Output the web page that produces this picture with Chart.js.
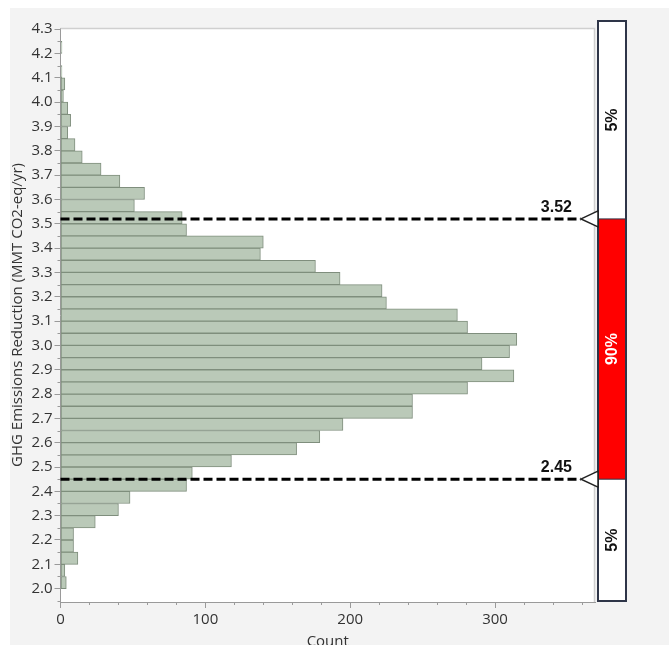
<!DOCTYPE html>
<html>
<head>
<meta charset="utf-8">
<script src="https://cdn.jsdelivr.net/npm/chart.js@4.4.1/dist/chart.umd.min.js"></script>
<style>
  html, body { margin: 0; padding: 0; background: #fff; }
  #wrap { width: 669px; height: 645px; }
</style>
</head>
<body>
<div id="wrap"><canvas id="histChart" width="669" height="645"></canvas></div>
<script>
// histogram bins (lower edge, width 0.05) and counts
const binStart = [2.00, 2.05, 2.10, 2.15, 2.20, 2.25, 2.30, 2.35, 2.40, 2.45,
                  2.50, 2.55, 2.60, 2.65, 2.70, 2.75, 2.80, 2.85, 2.90, 2.95,
                  3.00, 3.05, 3.10, 3.15, 3.20, 3.25, 3.30, 3.35, 3.40, 3.45,
                  3.50, 3.55, 3.60, 3.65, 3.70, 3.75, 3.80, 3.85, 3.90, 3.95,
                  4.00, 4.05, 4.10, 4.15, 4.20];
const counts = [4, 3, 12, 9, 9, 24, 40, 48, 87, 91,
                118, 163, 179, 195, 243, 243, 281, 313, 291, 310,
                315, 281, 274, 225, 222, 193, 176, 138, 140, 87,
                84, 51, 58, 41, 28, 15, 10, 5, 7, 5,
                2, 3, 1, 0, 1];
const binWidth = 0.05;

const yTickValues = [2.0, 2.1, 2.2, 2.3, 2.4, 2.5, 2.6, 2.7, 2.8, 2.9, 3.0, 3.1,
                     3.2, 3.3, 3.4, 3.5, 3.6, 3.7, 3.8, 3.9, 4.0, 4.1, 4.2, 4.3];
const xTickValues = [0, 100, 200, 300];

const lowerCut = 2.45;
const upperCut = 3.52;
const shareLabels = ['5%', '90%', '5%'];   // above upper, between, below lower

const uiFont = "'Segoe UI', 'Open Sans', sans-serif";
const boldFont = "'Liberation Sans', Arial, sans-serif";

const decorPlugin = {
  id: 'decor',
  beforeDraw(chart) {
    const ctx = chart.ctx;
    const a = chart.chartArea;
    ctx.save();
    ctx.fillStyle = '#ffffff';
    ctx.fillRect(0, 0, chart.width, chart.height);
    ctx.fillStyle = '#f3f3f3';
    ctx.fillRect(10, 8, chart.width - 10, chart.height - 8);
    ctx.fillStyle = '#ffffff';
    ctx.fillRect(a.left, a.top, a.right - a.left, a.bottom - a.top);
    ctx.restore();
  },
  afterDraw(chart) {
    const ctx = chart.ctx;
    const a = chart.chartArea;
    const xs = chart.scales.x;
    const ys = chart.scales.y;
    ctx.save();

    // light frame on top / right of plot
    ctx.strokeStyle = '#cfcfcf';
    ctx.lineWidth = 1.5;
    ctx.beginPath();
    ctx.moveTo(a.left, a.top + 0.5);
    ctx.lineTo(a.right - 0.5, a.top + 0.5);
    ctx.lineTo(a.right - 0.5, a.bottom);
    ctx.stroke();

    // minor ticks
    ctx.strokeStyle = '#9a9a9a';
    ctx.lineWidth = 1;
    ctx.beginPath();
    for (let k = Math.ceil(ys.min / 0.05); k * 0.05 <= ys.max; k++) {
      if (k % 2 === 0) continue;
      const py = Math.round(ys.getPixelForValue(k * 0.05)) + 0.5;
      ctx.moveTo(a.left - 3, py);
      ctx.lineTo(a.left, py);
    }
    for (let v = 20; v <= xs.max; v += 20) {
      if (v % 100 === 0) continue;
      const px = Math.round(xs.getPixelForValue(v)) + 0.5;
      ctx.moveTo(px, a.bottom);
      ctx.lineTo(px, a.bottom + 3);
    }
    ctx.stroke();

    // side box
    const boxL = 598, boxR = 626;
    const boxT = a.top - 7, boxB = a.bottom - 1;
    const yUp = ys.getPixelForValue(upperCut);
    const yLo = ys.getPixelForValue(lowerCut);
    const tipX = boxL - 17;

    // dashed cut lines
    ctx.strokeStyle = '#000';
    ctx.lineWidth = 3;
    ctx.setLineDash([9, 4]);
    [yUp, yLo].forEach(py => {
      ctx.beginPath();
      ctx.moveTo(a.left, py);
      ctx.lineTo(tipX, py);
      ctx.stroke();
    });
    ctx.setLineDash([]);

    // cut labels
    ctx.fillStyle = '#111';
    ctx.font = 'bold 16px ' + boldFont;
    ctx.textAlign = 'right';
    ctx.textBaseline = 'alphabetic';
    ctx.fillText(upperCut.toFixed(2), 572, yUp - 7);
    ctx.fillText(lowerCut.toFixed(2), 572, yLo - 7);

    // box
    ctx.fillStyle = '#ffffff';
    ctx.fillRect(boxL, boxT, boxR - boxL, boxB - boxT);
    ctx.fillStyle = '#ff0000';
    ctx.fillRect(boxL, yUp, boxR - boxL, yLo - yUp);
    ctx.strokeStyle = '#2e3548';
    ctx.lineWidth = 1;
    ctx.beginPath();
    ctx.moveTo(boxL, yUp); ctx.lineTo(boxR, yUp);
    ctx.moveTo(boxL, yLo); ctx.lineTo(boxR, yLo);
    ctx.stroke();
    ctx.lineWidth = 2;
    ctx.strokeRect(boxL, boxT, boxR - boxL, boxB - boxT);

    // triangles
    ctx.lineWidth = 1.5;
    ctx.strokeStyle = '#222';
    [yUp, yLo].forEach(py => {
      ctx.beginPath();
      ctx.moveTo(tipX, py);
      ctx.lineTo(boxL, py - 8);
      ctx.lineTo(boxL, py + 8);
      ctx.closePath();
      ctx.fillStyle = '#fff';
      ctx.fill();
      ctx.stroke();
    });

    // share labels, rotated
    const cx = (boxL + boxR) / 2 + 1;
    const mids = [(boxT + yUp) / 2, (yUp + yLo) / 2, (yLo + boxB) / 2];
    const cols = ['#111', '#ffffff', '#111'];
    ctx.font = 'bold 16px ' + boldFont;
    ctx.textAlign = 'center';
    ctx.textBaseline = 'middle';
    mids.forEach((my, i) => {
      ctx.save();
      ctx.translate(cx, my);
      ctx.rotate(-Math.PI / 2);
      ctx.fillStyle = cols[i];
      ctx.fillText(shareLabels[i], 0, 0);
      ctx.restore();
    });

    ctx.restore();
  }
};

const ctxHist = document.getElementById('histChart').getContext('2d');
new Chart(ctxHist, {
  type: 'bar',
  data: {
    datasets: [{
      label: 'Count',
      data: binStart.map((b, i) => ({ x: counts[i], y: +(b + binWidth / 2).toFixed(3) })),
      backgroundColor: '#bac9b8',
      borderColor: '#7f8e7d',
      borderWidth: 1,
      borderSkipped: false,
      barPercentage: 1,
      categoryPercentage: 1
    }]
  },
  options: {
    indexAxis: 'y',
    responsive: false,
    animation: false,
    layout: { padding: { left: 10, top: 28, right: 74, bottom: 0 } },
    plugins: { legend: { display: false }, tooltip: { enabled: false } },
    scales: {
      y: {
        type: 'linear',
        position: 'left',
        offset: false,
        min: 1.945,
        max: 4.305,
        afterBuildTicks: scale => { scale.ticks = yTickValues.map(v => ({ value: v })); },
        afterFit: scale => { scale.width = 50.5; },
        ticks: {
          autoSkip: false,
          padding: 2,
          color: '#333333',
          font: { family: uiFont, size: 15 },
          callback: v => Number(v).toFixed(1)
        },
        grid: { offset: false, drawOnChartArea: false, drawTicks: true, tickLength: 6, color: '#9a9a9a' },
        border: { display: true, color: '#9a9a9a', width: 1 },
        title: {
          display: true,
          text: 'GHG Emissions Reduction (MMT CO2-eq/yr)',
          color: '#333',
          font: { family: uiFont, size: 15 },
          padding: { top: -1, bottom: 0 }
        }
      },
      x: {
        type: 'linear',
        position: 'bottom',
        min: 0,
        max: 369,
        afterBuildTicks: scale => { scale.ticks = xTickValues.map(v => ({ value: v })); },
        afterFit: scale => { scale.height = 43; },
        ticks: {
          autoSkip: false,
          padding: 3,
          maxRotation: 0,
          color: '#333333',
          font: { family: uiFont, size: 15 }
        },
        grid: { drawOnChartArea: false, drawTicks: true, tickLength: 6, color: '#9a9a9a' },
        border: { display: true, color: '#9a9a9a', width: 1 },
        title: {
          display: true,
          text: 'Count',
          color: '#333',
          font: { family: uiFont, size: 15 },
          padding: { top: 0, bottom: -6 }
        }
      }
    }
  },
  plugins: [decorPlugin]
});
</script>
</body>
</html>
